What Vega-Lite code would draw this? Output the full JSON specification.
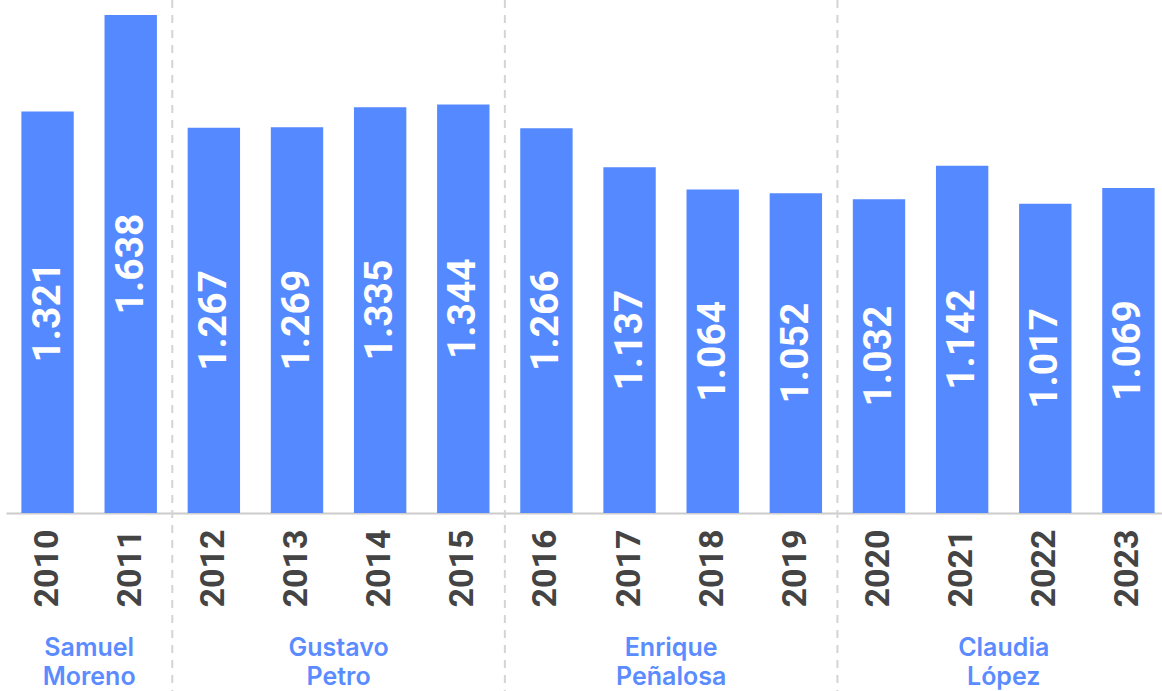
{
  "$schema": "https://vega.github.io/schema/vega-lite/v6.json",
  "width": 1164,
  "height": 691,
  "padding": {"left": 6, "top": 0, "right": 0, "bottom": 0},
  "autosize": "none",
  "background": "white",
  "config": {"view": {"stroke": null}},
  "data": {"values": [
      {"year": "2010", "value": 1.321, "sep": false, "name": null},
      {"year": "2011", "value": 1.638, "sep": false, "name": "Samuel\nMoreno"},
      {"year": "2012", "value": 1.267, "sep": true, "name": null},
      {"year": "2013", "value": 1.269, "sep": false, "name": null},
      {"year": "2014", "value": 1.335, "sep": false, "name": "Gustavo\nPetro"},
      {"year": "2015", "value": 1.344, "sep": false, "name": null},
      {"year": "2016", "value": 1.266, "sep": true, "name": null},
      {"year": "2017", "value": 1.137, "sep": false, "name": null},
      {"year": "2018", "value": 1.064, "sep": false, "name": "Enrique\nPeñalosa"},
      {"year": "2019", "value": 1.052, "sep": false, "name": null},
      {"year": "2020", "value": 1.032, "sep": true, "name": null},
      {"year": "2021", "value": 1.142, "sep": false, "name": null},
      {"year": "2022", "value": 1.017, "sep": false, "name": "Claudia\nLópez"},
      {"year": "2023", "value": 1.069, "sep": false, "name": null}
  ]},
  "layer": [
    {
      "transform": [{"filter": "datum.sep"}],
      "mark": {"type": "rule", "color": "#d4d4d4", "strokeWidth": 2, "strokeDash": [8, 7]},
      "encoding": {
        "x": {"field": "year", "type": "ordinal", "bandPosition": 0}
      }
    },
    {
      "mark": {"type": "bar", "color": "#5589FF", "width": {"band": 0.63}},
      "encoding": {
        "x": {
          "field": "year",
          "type": "ordinal",
          "scale": {"paddingInner": 0, "paddingOuter": 0},
          "axis": {
            "title": null,
            "offset": -178,
            "domainColor": "#cccccc",
            "domainWidth": 2,
            "ticks": false,
            "grid": false,
            "labelAngle": -90,
            "labelAlign": "right",
            "labelBaseline": "middle",
            "labelPadding": 16,
            "labelFont": "Roboto",
            "labelFontWeight": "bold",
            "labelFontSize": 34,
            "labelColor": "#444444"
          }
        },
        "y": {
          "field": "value",
          "type": "quantitative",
          "scale": {"domain": [-0.5855, 1.6875], "nice": false, "zero": false},
          "axis": null
        }
      }
    },
    {
      "transform": [{"calculate": "datum.value / 2", "as": "mid"}],
      "mark": {"type": "text", "angle": 270, "align": "center", "baseline": "middle", "font": "Roboto", "fontWeight": "bold", "fontSize": 39, "color": "white"},
      "encoding": {
        "x": {"field": "year", "type": "ordinal"},
        "y": {"field": "mid", "type": "quantitative"},
        "text": {"field": "value", "type": "quantitative", "format": ".3f"}
      }
    },
    {
      "transform": [{"filter": "datum.name != null"}],
      "mark": {"type": "text", "align": "center", "baseline": "middle", "lineBreak": "\n", "lineHeight": 29, "font": "Inter", "fontWeight": 600, "fontSize": 25, "color": "#5B8CFF"},
      "encoding": {
        "x": {"field": "year", "type": "ordinal", "bandPosition": 0},
        "y": {"datum": -0.444, "type": "quantitative"},
        "text": {"field": "name", "type": "nominal"}
      }
    }
  ]
}
